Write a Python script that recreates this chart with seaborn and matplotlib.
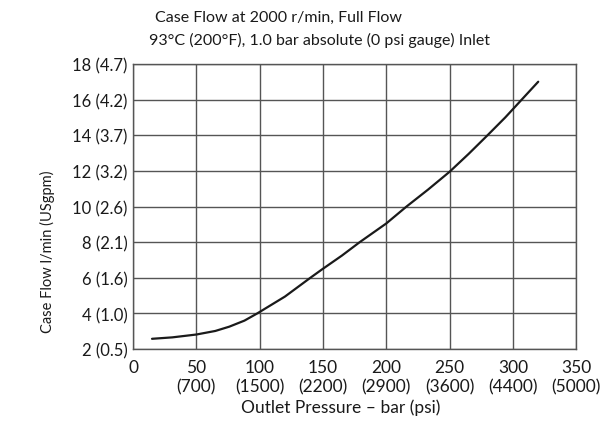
import matplotlib
matplotlib.use("Agg")
import matplotlib.pyplot as plt
import seaborn as sns
import pandas as pd

# Case flow curve
pressure_bar = [15, 31, 50, 65, 76, 88, 98, 120, 140, 149, 165, 179, 200, 216,
                233, 250, 265, 280, 294, 307, 320]
case_flow_lpm = [2.58, 2.66, 2.82, 3.02, 3.26, 3.6, 4.0, 4.95, 6.0, 6.46, 7.25, 8.0,
                 9.05, 10.0, 10.95, 11.95, 12.95, 14.0, 15.0, 16.0, 17.0]

x_ticks = [0, 50, 100, 150, 200, 250, 300, 350]
x_tick_labels = ["0", "50\n(700)", "100\n(1500)", "150\n(2200)", "200\n(2900)",
                 "250\n(3600)", "300\n(4400)", "350\n(5000)"]
y_ticks = [2, 4, 6, 8, 10, 12, 14, 16, 18]
y_tick_labels = ["2 (0.5)", "4 (1.0)", "6 (1.6)", "8 (2.1)", "10 (2.6)",
                 "12 (3.2)", "14 (3.7)", "16 (4.2)", "18 (4.7)"]

sns.set_style("white")
plt.rcParams["font.family"] = ["Lato", "DejaVu Sans"]

df = pd.DataFrame({"pressure": pressure_bar, "flow": case_flow_lpm})

fig = plt.figure(figsize=(6.13, 4.27), dpi=100)
ax = fig.add_axes([0.217, 0.180, 0.723, 0.668])
sns.lineplot(data=df, x="pressure", y="flow", color="#1a1a1a", linewidth=1.6, ax=ax)

ax.set_xlim(0, 350)
ax.set_ylim(2, 18)
ax.set_xticks(x_ticks)
ax.set_xticklabels(x_tick_labels, fontsize=12.5, linespacing=1.25)
ax.set_yticks(y_ticks)
ax.set_yticklabels(y_tick_labels, fontsize=12)
ax.tick_params(length=0, colors="#1a1a1a")
ax.tick_params(axis="x", pad=7)
ax.tick_params(axis="y", pad=4)
ax.grid(True, color="#555555", linewidth=1.0)
for s in ax.spines.values():
    s.set_color("#555555")
    s.set_linewidth(1.0)
ax.set_xlabel("")
ax.set_ylabel("")

fig.text(0.555, 0.044, "Outlet Pressure – bar (psi)", ha="center", va="center",
         fontsize=12.5, color="#1a1a1a")
fig.text(0.078, 0.41, "Case Flow l/min (USgpm)", rotation=90, ha="center",
         va="center", fontsize=10.5, color="#1a1a1a")
fig.text(0.454, 0.958, "Case Flow at 2000 r/min, Full Flow", ha="center",
         va="center", fontsize=11.5, color="#1a1a1a")
fig.text(0.522, 0.905, "93°C (200°F), 1.0 bar absolute (0 psi gauge) Inlet",
         ha="center", va="center", fontsize=11.5, color="#1a1a1a")

fig.savefig("out.png", dpi=100)
